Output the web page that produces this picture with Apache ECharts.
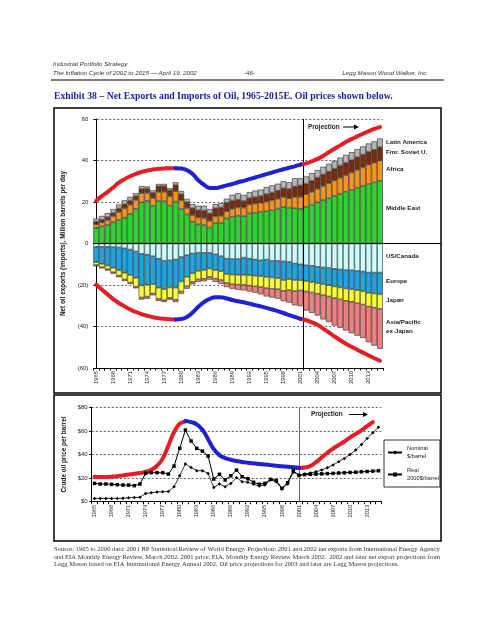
<!DOCTYPE html>
<html><head><meta charset="utf-8">
<script src="https://cdn.jsdelivr.net/npm/echarts/dist/echarts.min.js"></script>
<style>html,body{margin:0;padding:0;background:#fff}#c{width:495px;height:640px}</style>
</head><body><div id="c"></div>
<script>
// ---------- DATA ----------
const years = [];
for (let y = 1965; y <= 2015; y++) years.push(String(y));

// Net exports (positive) by region, million b/d
const middleEast = [7.5,8.2,8.9,10.2,11.3,12.4,14.3,16.7,19.8,20.5, 18.1,20.5,20.3,18.3,20.2,16.6,14.0,10.5,9.2,8.9, 7.7,9.8,10.0,12.1,12.9,13.4,13.2,14.5,14.8,15.2, 15.6,16.1,16.8,17.5,17.3,17.0,16.7,17.7,18.7,19.8, 20.9,21.8,22.9,23.9,25.0,25.8,26.8,27.7,28.7,29.4,30.2];
const africa = [1.8,2.0,2.4,3.0,3.9,4.6,4.4,4.3,4.5,3.9, 3.8,4.4,4.6,4.4,5.0,4.2,3.1,3.2,3.3,3.4, 3.2,3.3,3.3,3.4,3.8,4.0,4.1,4.3,4.4,4.4, 4.6,4.7,4.8,4.9,4.5,5.4,5.8,6.0,6.2,6.5, 6.8,7.2,7.4,7.8,8.0,8.4,8.7,9.0,9.3,9.5,9.8];
const fmrSoviet = [1.2,1.3,1.4,1.5,1.7,1.9,2.0,1.9,2.0,2.0, 2.5,2.7,2.8,2.9,3.0,3.0,2.9,3.3,3.5,3.6, 3.6,3.9,4.1,4.1,4.0,3.8,3.2,3.0,3.2,3.3, 3.6,3.8,3.9,4.2,4.5,5.1,5.5,5.2,5.4,5.5, 5.6,5.7,5.8,5.9,5.9,6.0,6.1,6.2,6.2,6.3,6.5];
const latinAmerica = [1.5,1.8,1.9,1.9,1.9,1.9,1.8,1.4,1.3,1.1, 1.2,1.1,1.0,1.0,1.3,1.5,1.5,2.0,2.2,2.3, 2.1,1.9,2.0,2.0,2.8,3.0,2.9,2.9,3.1,3.1, 3.4,3.4,3.3,3.4,3.2,4.0,3.5,3.4,3.6,3.6, 3.7,3.7,3.7,3.8,3.8,3.8,3.9,3.9,4.0,4.0,4.1];
// Net imports (negative)
const usCanada = [-1.6,-1.6,-1.6,-1.7,-1.9,-2.3,-2.9,-3.8,-5.0,-5.4, -6.1,-7.3,-8.4,-8.1,-7.7,-6.5,-5.6,-4.8,-4.5,-4.5, -4.5,-5.2,-6.1,-7.3,-7.5,-7.5,-6.8,-7.3,-7.7,-8.1, -7.7,-8.4,-8.4,-8.6,-8.9,-9.6,-10.0,-10.5,-10.8,-11.2, -11.5,-11.8,-12.2,-12.5,-12.8,-12.9,-13.2,-13.5,-14.0,-14.0,-14.0];
const europe = [-7.4,-8.2,-9.0,-10.0,-11.0,-11.8,-12.3,-12.8,-15.2,-14.5, -13.5,-14.0,-13.6,-13.1,-13.6,-11.8,-10.5,-9.6,-8.7,-8.3, -7.6,-7.6,-7.3,-7.4,-7.5,-7.6,-8.3,-8.0,-7.8,-7.6, -8.4,-8.0,-8.3,-9.0,-8.3,-8.0,-7.7,-7.6,-7.8,-7.9, -8.1,-8.3,-8.5,-8.7,-8.9,-9.1,-9.3,-9.5,-9.8,-10.1,-10.5];
const japan = [-1.4,-1.6,-1.8,-2.2,-2.6,-3.2,-3.6,-4.2,-5.8,-5.7, -4.5,-5.4,-5.3,-5.0,-5.8,-4.8,-4.5,-4.1,-4.1,-4.2, -4.0,-4.1,-4.2,-4.3,-4.6,-4.7,-4.8,-5.0,-5.1,-5.3, -5.4,-5.4,-5.3,-5.2,-5.3,-5.3,-4.9,-5.0,-5.0,-5.1, -5.3,-5.4,-5.6,-5.7,-5.9,-6.1,-6.2,-6.4,-6.6,-6.8,-7.0];
const asiaPacific = [-0.6,-0.6,-0.6,-0.6,-0.7,-0.7,-0.7,-0.8,-1.0,-1.0, -0.9,-1.0,-0.9,-0.9,-1.1,-1.1,-1.2,-1.2,-1.2,-1.2, -1.3,-1.6,-1.8,-2.0,-2.2,-2.5,-2.7,-2.8,-3.1,-3.5, -4.0,-4.3,-4.6,-5.0,-6.0,-6.9,-7.6,-9.2,-9.8,-10.5, -11.7,-12.4,-13.2,-13.7,-14.3,-15.1,-15.7,-16.2,-17.2,-18.3,-19.3];

// Envelope curves (top chart)
const N = null;
const upperRed = [20.6,22.8,24.8,27.0,29.3,31.0,32.4,33.6,34.5,35.2,35.7,36.0,36.2,36.3,36.3, N,N,N,N,N,N,N,N,N,N,N,N,N,N,N,N,N,N,N,N,N, 38.0,38.6,39.6,40.8,42.2,44.0,45.7,47.3,48.9,50.3,51.6,52.9,54.1,55.2,56.1];
const upperBlue = [N,N,N,N,N,N,N,N,N,N,N,N,N,N, 36.3,36.2,35.3,33.5,30.5,28.3,26.8,26.7,27.3,28.0,28.7,29.5,30.2,31.0,31.8,32.6,33.4,34.2,35.0,35.8,36.5,37.2,38.0, N,N,N,N,N,N,N,N,N,N,N,N,N,N];
const lowerRed = [-19.8,-22.2,-24.5,-26.8,-28.7,-30.3,-31.8,-33.0,-34.0,-34.8,-35.5,-36.0,-36.3,-36.5,-36.6, N,N,N,N,N,N,N,N,N,N,N,N,N,N,N,N,N,N,N,N,N, -36.3,-37.0,-38.0,-39.2,-41.0,-42.9,-44.8,-46.6,-48.3,-49.8,-51.2,-52.6,-54.0,-55.3,-56.5];
const lowerBlue = [N,N,N,N,N,N,N,N,N,N,N,N,N,N, -36.6,-36.4,-35.4,-33.3,-30.5,-28.3,-26.7,-25.9,-25.9,-26.5,-27.2,-27.8,-28.3,-29.0,-29.7,-30.3,-31.0,-31.8,-32.6,-33.5,-34.5,-35.4,-36.3, N,N,N,N,N,N,N,N,N,N,N,N,N,N];

// Crude oil prices ($/barrel)
const nominalPrice = [2.8,2.8,2.8,2.8,2.8,2.9,3.4,3.5,3.8,7.0, 7.6,8.2,8.5,8.6,12.7,22.0,32.0,29.0,26.3,26.3, 24.0,12.1,15.0,12.7,15.5,20.3,17.0,16.4,14.7,13.3, 14.1,18.4,17.0,10.8,15.0,25.0,22.6,23.4,24.3,25.4, 26.8,28.8,31.1,33.9,36.7,40.1,43.8,48.5,53.5,58.5,63.0];
const realPrice = [15.5,15.0,15.0,14.7,14.4,14.1,14.1,13.6,15.0,24.0, 24.6,24.6,24.6,23.4,30.2,45.2,60.7,51.4,45.2,42.9, 38.7,19.2,23.2,18.4,22.0,26.8,21.2,19.5,16.5,14.8, 15.5,19.0,18.0,11.3,16.1,26.3,22.3,23.0,23.2,23.4, 23.6,23.8,24.0,24.3,24.5,24.8,25.0,25.3,25.6,25.9,26.2];
const priceRed = [21.2,21.0,21.0,21.2,21.6,22.3,23.0,23.6,24.3,25.4,27.0,30.5,36.5,47.5,59.0,66.0,68.0, N,N,N,N,N,N,N,N,N,N,N,N,N,N,N,N,N,N, 28.8,28.6,29.0,30.3,33.5,37.5,41.5,45.0,48.0,51.0,54.5,57.5,60.5,64.0,67.5];
const priceBlue = [N,N,N,N,N,N,N,N,N,N,N,N,N,N,N,N, 68.5,67.5,65.5,61.0,53.0,44.5,39.5,37.0,35.5,34.5,33.7,33.1,32.5,32.0,31.5,31.0,30.5,30.0,29.6,29.2,28.8, N,N,N,N,N,N,N,N,N,N,N,N,N,N];

const topTicks = [-60,-40,-20,0,20,40,60];
const priceTicks = [0,20,40,60,80];

// ---------- CHART ----------
const SANS = '"Liberation Sans", Arial, sans-serif';
const SERIF = '"Liberation Serif", "Times New Roman", serif';
const chart = echarts.init(document.getElementById('c'), null, {renderer:'canvas'});

const barBase = {type:'bar', stack:'oil', xAxisIndex:0, yAxisIndex:0, barCategoryGap:'0%',
  itemStyle:{borderColor:'#2a2a2a', borderWidth:0.6}, emphasis:{disabled:true}};
const colors = {me:'#2fd32f', af:'#f7941d', fsu:'#7a2c0c', la:'#b6b6b6',
  us:'#ccffff', eu:'#1fa4e2', jp:'#ffff33', ap:'#f08080'};
const RED = '#e31e24', BLUE = '#2020d4';

function env(name, data, color, xi, yi){
  return {name, type:'line', xAxisIndex:xi, yAxisIndex:yi, data, smooth:0.5, symbol:'none',
    connectNulls:false, lineStyle:{color, width:4, cap:'round'}, z:5, silent:true};
}

const option = {
  animation:false,
  backgroundColor:'#fff',
  grid:[
    {left:93.3, width:289.5, top:119, height:249},
    {left:91.7, width:289.6, top:407.3, height:94.4}
  ],
  xAxis:[
    {type:'category', gridIndex:0, data:years, position:'bottom',
      axisLine:{onZero:false, lineStyle:{color:'#000', width:1}},
      axisTick:{show:true, interval:0, length:2.5, lineStyle:{color:'#000'}},
      axisLabel:{rotate:90, interval:2, fontSize:5.8, fontFamily:SANS, color:'#222', margin:3}},
    {type:'value', gridIndex:0, min:-0.5, max:50.5, show:false},
    {type:'category', gridIndex:1, data:years, position:'bottom',
      axisLine:{onZero:false, lineStyle:{color:'#000', width:1}},
      axisTick:{show:true, interval:0, length:2.5, lineStyle:{color:'#000'}},
      axisLabel:{rotate:90, interval:2, fontSize:5.8, fontFamily:SANS, color:'#222', margin:3}}
  ],
  yAxis:[
    {type:'value', gridIndex:0, min:topTicks[0], max:topTicks[topTicks.length-1], interval:20,
      name:'Net oil exports (imports), Million barrels per day', nameLocation:'middle', nameGap:24, nameRotate:90,
      nameTextStyle:{fontSize:6.4, fontWeight:'bold', fontFamily:SANS, color:'#111'},
      axisLine:{show:true, lineStyle:{color:'#000', width:1}},
      axisTick:{show:true, length:2.5, lineStyle:{color:'#000'}},
      axisLabel:{fontSize:6, fontFamily:SANS, color:'#222', margin:5,
        formatter:v => v < 0 ? '(' + (-v) + ')' : String(v)},
      splitLine:{show:true, lineStyle:{color:'#222', width:0.7, type:[2,2]}}},
    {type:'value', gridIndex:1, min:priceTicks[0], max:priceTicks[priceTicks.length-1], interval:20,
      name:'Crude oil price per barrel', nameLocation:'middle', nameGap:20, nameRotate:90,
      nameTextStyle:{fontSize:6.4, fontWeight:'bold', fontFamily:SANS, color:'#111'},
      axisLine:{show:true, lineStyle:{color:'#000', width:1}},
      axisTick:{show:true, length:2.5, lineStyle:{color:'#000'}},
      axisLabel:{fontSize:6, fontFamily:SANS, color:'#222', margin:4, formatter:v => '$' + v},
      splitLine:{show:true, lineStyle:{color:'#222', width:0.7, type:[2,2]}}}
  ],
  legend:{
    data:['Nominal $/barrel','Real 2000$/barrel'], orient:'vertical', left:384, top:440,
    formatter:n => n.replace(' ', '\n'),
    textStyle:{fontSize:5.7, fontFamily:SANS, color:'#222', lineHeight:8.5},
    itemWidth:14, itemHeight:5, itemGap:5, borderColor:'#000', borderWidth:0.8,
    padding:[4,1,4,3], backgroundColor:'#fff'
  },
  series:[
    Object.assign({}, barBase, {name:'Middle East', data:middleEast, itemStyle:Object.assign({}, barBase.itemStyle, {color:colors.me}),
      markLine:{symbol:'none', silent:true, label:{show:false}, lineStyle:{color:'#000', width:1, type:'solid'}, data:[{yAxis:0}]}}),
    Object.assign({}, barBase, {name:'Africa', data:africa, itemStyle:Object.assign({}, barBase.itemStyle, {color:colors.af})}),
    Object.assign({}, barBase, {name:'Fmr. Soviet U.', data:fmrSoviet, itemStyle:Object.assign({}, barBase.itemStyle, {color:colors.fsu})}),
    Object.assign({}, barBase, {name:'Latin America', data:latinAmerica, itemStyle:Object.assign({}, barBase.itemStyle, {color:colors.la})}),
    Object.assign({}, barBase, {name:'US/Canada', data:usCanada, itemStyle:Object.assign({}, barBase.itemStyle, {color:colors.us})}),
    Object.assign({}, barBase, {name:'Europe', data:europe, itemStyle:Object.assign({}, barBase.itemStyle, {color:colors.eu})}),
    Object.assign({}, barBase, {name:'Japan', data:japan, itemStyle:Object.assign({}, barBase.itemStyle, {color:colors.jp})}),
    Object.assign({}, barBase, {name:'Asia/Pacific ex-Japan', data:asiaPacific, itemStyle:Object.assign({}, barBase.itemStyle, {color:colors.ap})}),
    env('upperRed', upperRed, RED, 0, 0),
    env('upperBlue', upperBlue, BLUE, 0, 0),
    env('lowerRed', lowerRed, RED, 0, 0),
    env('lowerBlue', lowerBlue, BLUE, 0, 0),
    {name:'divider', type:'line', xAxisIndex:1, yAxisIndex:0, data:[[36.5, 0]], symbol:'none', lineStyle:{width:0}, silent:true,
      markLine:{symbol:'none', silent:true, label:{show:false}, lineStyle:{color:'#000', width:1, type:'solid'}, data:[{xAxis:36.5}]}},
    env('priceRed', priceRed, RED, 2, 1),
    env('priceBlue', priceBlue, BLUE, 2, 1),
    {name:'Nominal $/barrel', type:'line', xAxisIndex:2, yAxisIndex:1, data:nominalPrice, symbol:'diamond', symbolSize:3.5,
      lineStyle:{color:'#000', width:0.8}, itemStyle:{color:'#000'}, z:6,
      markLine:{symbol:'none', silent:true, label:{show:false}, lineStyle:{color:'#666', width:1, type:'solid'}, data:[{xAxis:'2001'}]}},
    {name:'Real 2000$/barrel', type:'line', xAxisIndex:2, yAxisIndex:1, data:realPrice, symbol:'rect', symbolSize:3.5,
      lineStyle:{color:'#000', width:1}, itemStyle:{color:'#000'}, z:6}
  ]
};
chart.setOption(option);

// ---------- TEXT / FRAME ----------
const ctx = document.createElement('canvas').getContext('2d');
function fitSize(text, font, base, target){
  ctx.font = font.replace('{s}', base + 'px');
  return base * target / ctx.measureText(text).width;
}
const titleText = 'Exhibit 38 \u2013 Net Exports and Imports of Oil, 1965-2015E. Oil prices shown below.';
const titleSize = fitSize(titleText, 'bold {s} ' + SERIF, 10, 339);
const src = [
  'Source: 1965 to 2000 data: 2001 BP Statistical Review of World Energy. Projection: 2001 and 2002 net exports from International Energy Agency',
  'and EIA Monthly Energy Review, March 2002. 2001 price: EIA, Monthly Energy Review March 2002.  2002 and later net export projections from',
  'Legg Mason based on EIA International Energy Annual 2002. Oil price projections for 2003 and later are Legg Mason projections.'
];
const s1 = fitSize(src[0], '{s} ' + SERIF, 6, 387);
const s2 = fitSize(src[1], '{s} ' + SERIF, 6, 387);
const s3 = (s1 + s2) / 2;

const y0 = chart.convertToPixel({yAxisIndex:0}, 0);
const xR = chart.convertToPixel({xAxisIndex:1}, 50.5);

function txt(x, y, text, size, opts){
  opts = opts || {};
  return {type:'text', silent:true, z:50, style:{x, y, text,
    font:(opts.style || '') + ' ' + (opts.weight || 'normal') + ' ' + size + 'px ' + (opts.family || SANS),
    fill:opts.fill || '#222', textAlign:opts.align || 'left', textVerticalAlign:'middle'}};
}
function arrow(x1, x2, y){
  return [
    {type:'line', silent:true, z:50, shape:{x1, y1:y, x2:x2 - 4, y2:y}, style:{stroke:'#000', lineWidth:1}},
    {type:'polygon', silent:true, z:50, shape:{points:[[x2 - 5, y - 2.5],[x2, y],[x2 - 5, y + 2.5]]}, style:{fill:'#000'}}
  ];
}
const lab = {weight:'bold', fill:'#222'};
const graphic = [
  txt(53, 64, 'Industrial Portfolio Strategy', 6.2, {style:'italic', fill:'#333'}),
  txt(53, 73, 'The Inflation Cycle of 2002 to 2015 \u2014 April 19, 2002', 6.2, {style:'italic', fill:'#333'}),
  txt(244, 73, '-48-', 6.2, {fill:'#333'}),
  txt(428, 73, 'Legg Mason Wood Walker, Inc.', 6.2, {style:'italic', fill:'#333', align:'right'}),
  {type:'line', silent:true, shape:{x1:51, y1:80, x2:444, y2:80}, style:{stroke:'#000', lineWidth:1.2}},
  txt(54, 96, titleText, titleSize, {weight:'bold', family:SERIF, fill:'#1c1ca8'}),
  {type:'rect', silent:true, z:40, shape:{x:54, y:108, width:387, height:285}, style:{fill:'none', stroke:'#000', lineWidth:1.5}},
  {type:'rect', silent:true, z:40, shape:{x:54, y:395, width:387, height:146}, style:{fill:'none', stroke:'#000', lineWidth:1.5}},
  {type:'line', silent:true, z:40, shape:{x1:xR, y1:y0, x2:441, y2:y0}, style:{stroke:'#000', lineWidth:1}},
  txt(386, 142, 'Latin America', 6.2, lab),
  txt(386, 152.5, 'Fmr. Soviet U.', 6.2, lab),
  txt(386, 169, 'Africa', 6.2, lab),
  txt(386, 208, 'Middle East', 6.2, lab),
  txt(386, 256, 'US/Canada', 6.2, lab),
  txt(386, 281.5, 'Europe', 6.2, lab),
  txt(386, 300.5, 'Japan', 6.2, lab),
  txt(386, 322.5, 'Asia/Pacific', 6.2, lab),
  txt(386, 331, 'ex-Japan', 6.2, lab),
  txt(308, 127, 'Projection', 6.5, lab),
  ...arrow(343, 359, 127),
  txt(311, 414.5, 'Projection', 6.5, lab),
  ...arrow(349, 368, 414.5),
  txt(54, 549.5, src[0], s1, {family:SERIF, fill:'#333'}),
  txt(54, 557, src[1], s2, {family:SERIF, fill:'#333'}),
  txt(54, 564.5, src[2], s3, {family:SERIF, fill:'#333'})
];
chart.setOption({graphic});
</script></body></html>
